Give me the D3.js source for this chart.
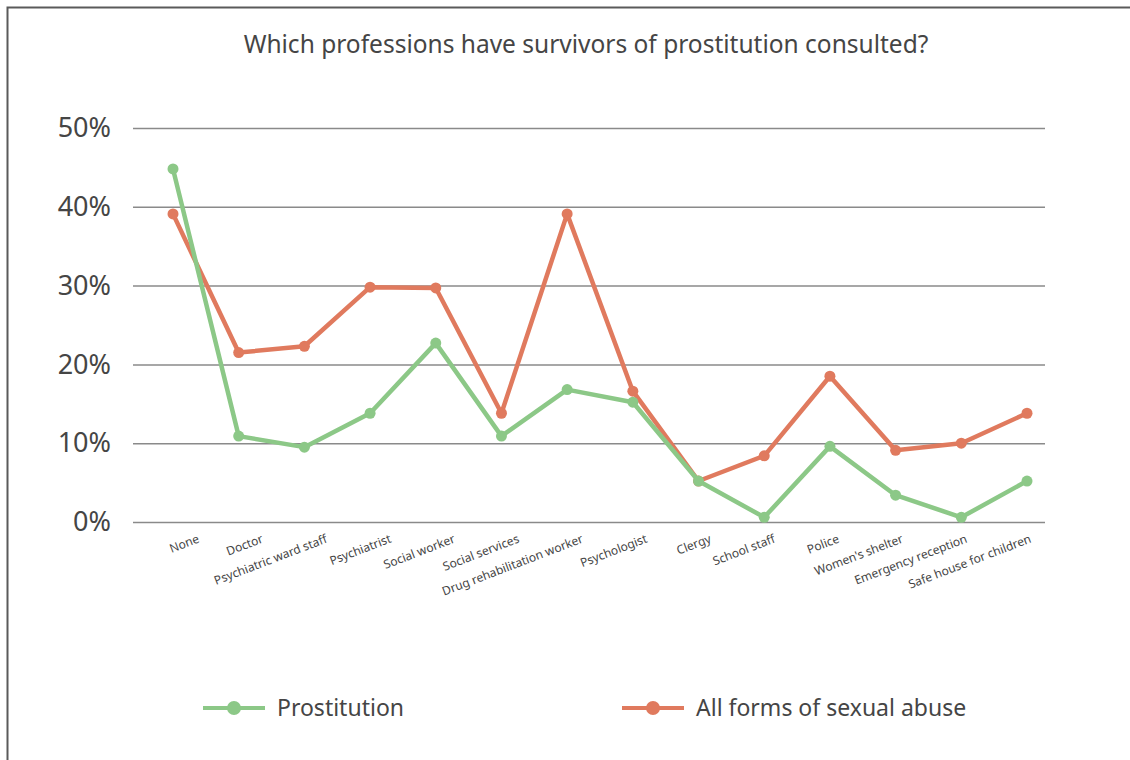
<!DOCTYPE html>
<html>
<head>
<meta charset="utf-8">
<script src="https://cdn.jsdelivr.net/npm/d3@7"></script>
<style>
  body { margin: 0; background: #fff; }
  svg { display: block; font-family: "Noto Sans", "DejaVu Sans", sans-serif; }
</style>
</head>
<body>
<svg id="chart"></svg>
<script>
let categories = ['None', 'Doctor', 'Psychiatric ward staff', 'Psychiatrist', 'Social worker',
  'Social services', 'Drug rehabilitation worker', 'Psychologist', 'Clergy', 'School staff',
  'Police', "Women's shelter", 'Emergency reception', 'Safe house for children']
let prostitution = [44.8, 10.9, 9.5, 13.8, 22.7, 10.9, 16.8, 15.2, 5.2, 0.6, 9.6, 3.4, 0.6, 5.2]
let sexualAbuse = [39.1, 21.5, 22.3, 29.8, 29.7, 13.8, 39.1, 16.6, 5.2, 8.4, 18.5, 9.1, 10.0, 13.8]
let yTicks = [0, 10, 20, 30, 40, 50]
let seriesNames = ['Prostitution', 'All forms of sexual abuse']

let width = 1130
let height = 760
let green = '#8cc887'
let red = '#e07a5e'
let textColor = '#454545'

let svg = d3.select('#chart').attr('width', width).attr('height', height)

// frame
svg.append('path')
  .attr('d', 'M7.5,' + height + ' V7.5 H' + width)
  .attr('fill', 'none')
  .attr('stroke', '#5a5a5a')
  .attr('stroke-width', 2)

svg.append('text')
  .attr('x', 586).attr('y', 53)
  .attr('text-anchor', 'middle')
  .attr('font-size', 24.5)
  .attr('fill', textColor)
  .text('Which professions have survivors of prostitution consulted?')

let xScale = d3.scalePoint().domain(categories).range([173, 1027])
let labelScale = d3.scalePoint().domain(categories).range([200, 1032])
let yScale = d3.scaleLinear().domain([0, 50]).range([522, 128])

// gridlines + y labels
let yAxis = d3.axisLeft(yScale)
  .tickValues(yTicks)
  .tickSize(-(1045 - 133))
  .tickPadding(22)
  .tickFormat(d => d + '%')

let gy = svg.append('g')
  .attr('transform', 'translate(133,0)')
  .call(yAxis)
  .attr('font-family', null)
gy.select('.domain').remove()
gy.selectAll('line').attr('stroke', '#8a8a8a').attr('stroke-width', 1.5)
gy.selectAll('text')
  .attr('font-size', 27)
  .attr('fill', textColor)

// x labels
svg.append('g')
  .selectAll('text')
  .data(categories)
  .enter()
  .append('text')
  .attr('transform', d => 'translate(' + labelScale(d) + ',542) rotate(-21)')
  .attr('text-anchor', 'end')
  .attr('font-size', 12)
  .attr('fill', textColor)
  .text(d => d)

let line = d3.line()
  .x((d, i) => xScale(categories[i]))
  .y(d => yScale(d))

let drawSeries = (values, color) => {
  svg.append('path')
    .datum(values)
    .attr('d', line)
    .attr('fill', 'none')
    .attr('stroke', color)
    .attr('stroke-width', 4.5)
    .attr('stroke-linejoin', 'round')
  svg.append('g')
    .selectAll('circle')
    .data(values)
    .enter()
    .append('circle')
    .attr('cx', (d, i) => xScale(categories[i]))
    .attr('cy', d => yScale(d))
    .attr('r', 5.5)
    .attr('fill', color)
}

drawSeries(sexualAbuse, red)
drawSeries(prostitution, green)

// legend
let legend = [
  { name: seriesNames[0], color: green, x: 203 },
  { name: seriesNames[1], color: red, x: 622 }
]
let lg = svg.append('g').selectAll('g')
  .data(legend)
  .enter()
  .append('g')
  .attr('transform', d => 'translate(' + d.x + ',708)')
lg.append('line')
  .attr('x1', 0).attr('x2', 62)
  .attr('stroke', d => d.color)
  .attr('stroke-width', 4)
lg.append('circle')
  .attr('cx', 31).attr('r', 7)
  .attr('fill', d => d.color)
lg.append('text')
  .attr('x', 74).attr('y', 8)
  .attr('font-size', 23)
  .attr('fill', textColor)
  .text(d => d.name)
</script>
</body>
</html>
